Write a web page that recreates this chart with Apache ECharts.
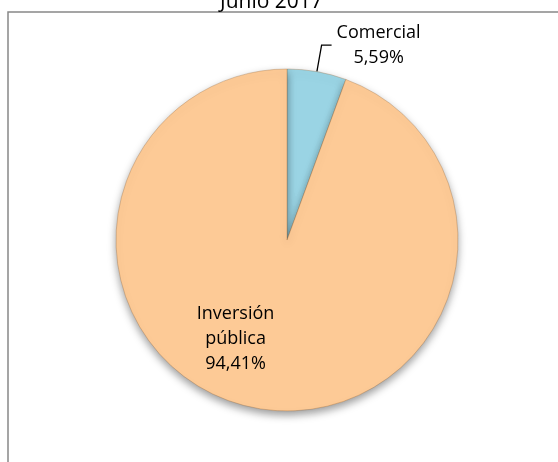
<!DOCTYPE html>
<html>
<head>
<meta charset="utf-8">
<script src="https://cdn.jsdelivr.net/npm/echarts@6/dist/echarts.min.js"></script>
<style>
  html, body { margin: 0; padding: 0; background: #fff; }
  #main { width: 558px; height: 462px; }
</style>
</head>
<body>
<div id="main"></div>
<script>
  // chart data
  const titleText = 'Junio 2017';
  const categories = ['Comercial', 'Inversión\npública'];
  const values = [5.59, 94.41];
  const sliceColors = ['#9AD4E4', '#FDCA96'];

  const fmt = (v) => v.toFixed(2).replace('.', ',') + '%';

  const pieData = categories.map((name, i) => ({
    name: name,
    value: values[i],
    itemStyle: { color: sliceColors[i] },
    label: i === 0
      ? { position: 'outside' }
      : { position: 'inside' },
    labelLine: { show: i === 0 }
  }));

  const option = {
    animation: false,
    title: {
      text: titleText,
      left: 215,
      top: -13,
      textStyle: {
        fontFamily: 'Open Sans',
        fontWeight: 'normal',
        fontSize: 21,
        color: '#000'
      }
    },
    graphic: [
      {
        type: 'rect',
        shape: { x: 8, y: 12, width: 600, height: 500 },
        style: { fill: 'none', stroke: '#888', lineWidth: 1.5 },
        silent: true
      }
    ],
    series: [
      {
        name: 'Junio 2017',
        type: 'pie',
        center: [287, 240],
        radius: 171,
        startAngle: 90,
        clockwise: true,
        data: pieData,
        itemStyle: {
          borderColor: 'rgba(150,100,50,0.4)',
          borderWidth: 0.8,
          shadowBlur: 9,
          shadowOffsetY: 4,
          shadowColor: 'rgba(0,0,0,0.4)'
        },
        label: {
          color: '#000',
          fontFamily: 'Open Sans',
          fontSize: 18,
          lineHeight: 25,
          formatter: (p) => p.name.split('\n').map(s => '{t|' + s + '}').join('\n') + '\n{t|' + fmt(p.value) + '}',
          rich: {
            t: { align: 'center', fontFamily: 'Open Sans', fontSize: 18, lineHeight: 25, color: '#000' }
          }
        },
        labelLine: {
          length: 27,
          length2: 10,
          lineStyle: { color: '#000', width: 1.3 }
        },
        labelLayout: (params) => {
          if (params.dataIndex === 1) {
            return { dx: -36, dy: 12 };
          }
          return {};
        }
      }
    ]
  };

  const myChart = echarts.init(document.getElementById('main'));
  myChart.setOption(option);
</script>
</body>
</html>
